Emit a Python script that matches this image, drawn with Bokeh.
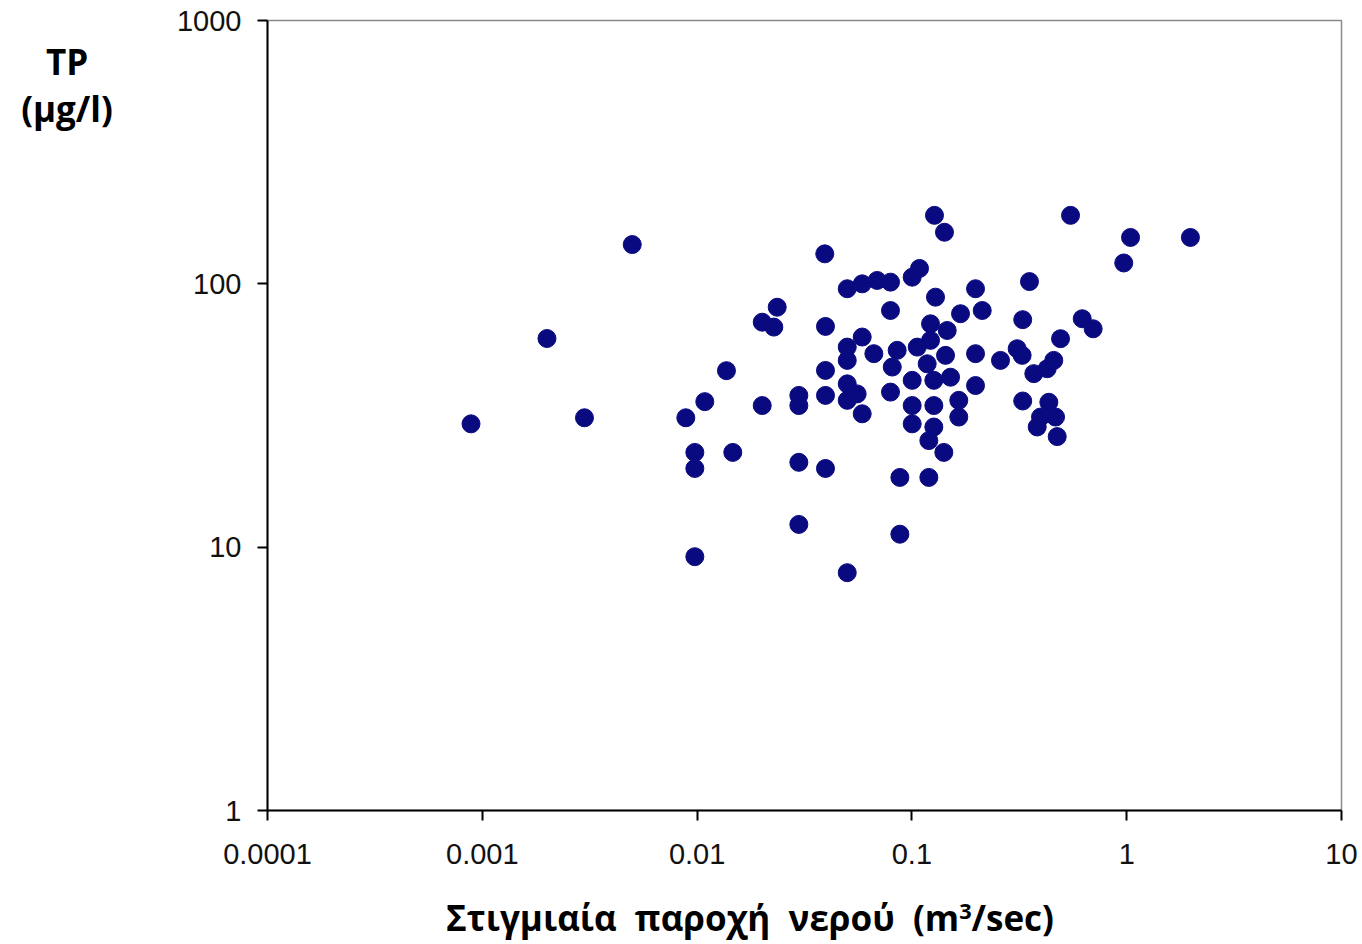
from bokeh.plotting import figure
from bokeh.models import FixedTicker, Div
from bokeh.layouts import row, column
from bokeh.embed import file_html
from bokeh.resources import INLINE

# Instantaneous water discharge (m3/sec) vs TP (ug/l)
flow = [0.000886, 0.0020, 0.00299, 0.00499, 0.00886, 0.00976, 0.00976, 0.00976,
        0.01086, 0.0137, 0.01466, 0.0201, 0.0201, 0.02276, 0.0236, 0.02976,
        0.02976, 0.02976, 0.02976, 0.0396, 0.0396, 0.0396, 0.0396, 0.0393,
        0.050, 0.050, 0.050, 0.050, 0.050, 0.0556, 0.0587, 0.0587, 0.050,
        0.0587, 0.0689, 0.0795, 0.0665, 0.0795, 0.0795, 0.081, 0.0854, 0.0879,
        0.0879, 0.1003, 0.1085, 0.1059, 0.1003, 0.1003, 0.1003, 0.1199, 0.1199,
        0.1221, 0.1221, 0.1178, 0.1265, 0.1265, 0.1265, 0.1288, 0.1274, 0.1418,
        0.1408, 0.146, 0.1434, 0.1513, 0.1653, 0.1653, 0.1684, 0.1978, 0.1978,
        0.1978, 0.2125, 0.2585, 0.309, 0.326, 0.328, 0.328, 0.3527, 0.3694,
        0.3831, 0.397, 0.4265, 0.434, 0.4576, 0.4663, 0.4748, 0.492, 0.5477,
        0.6208, 0.698, 0.969, 1.042, 1.98]
tp = [29.4, 62.0, 31.0, 141, 31.0, 22.9, 19.9, 9.2,
      35.7, 46.8, 22.9, 34.5, 71.5, 68.5, 81.5, 37.7,
      34.5, 21.0, 12.2, 68.9, 46.9, 37.7, 19.9, 130,
      95.8, 57.5, 51.2, 41.7, 36.1, 38.2, 32.1, 62.8, 8.0,
      100, 103, 101.5, 54.3, 79.2, 38.8, 48.3, 55.9, 18.4,
      11.2, 106, 114.4, 57.5, 43.0, 34.5, 29.4, 18.4, 25.4,
      70.5, 61.0, 49.7, 43.0, 34.5, 28.6, 89.0, 182, 157,
      22.9, 66.5, 53.5, 44.2, 36.1, 31.2, 77.0, 95.8, 54.3,
      41.1, 79.2, 51.2, 56.7, 53.5, 73.1, 35.9, 102, 45.6,
      28.6, 31.2, 47.6, 35.5, 51.2, 31.2, 26.3, 61.9, 182,
      73.7, 67.5, 120, 150, 150]

x_ticks = [0.0001, 0.001, 0.01, 0.1, 1, 10]
x_tick_labels = ["0.0001", "0.001", "0.01", "0.1", "1", "10"]
y_ticks = [1, 10, 100, 1000]
y_tick_labels = ["1", "10", "100", "1000"]

x_title = "Στιγμιαία&nbsp; παροχή&nbsp; νερού&nbsp; (m<sup style='font-size:0.62em;vertical-align:0.55em;line-height:0'>3</sup>/sec)"
y_title_lines = ["TP", "(μg/l)"]

p = figure(width=1228, height=874, frame_width=1074, frame_height=790,
           x_axis_type="log", y_axis_type="log",
           x_range=(x_ticks[0], x_ticks[-1]), y_range=(y_ticks[0], y_ticks[-1]),
           output_backend="svg", toolbar_location=None,
           min_border_left=133, min_border_right=21, min_border_top=20,
           min_border_bottom=64)

p.background_fill_color = "white"
p.border_fill_color = "white"
p.outline_line_color = "#8a8a8a"
p.outline_line_width = 1.5
p.xgrid.visible = False
p.ygrid.visible = False

p.xaxis.ticker = FixedTicker(ticks=x_ticks)
p.yaxis.ticker = FixedTicker(ticks=y_ticks)
p.xaxis.major_label_overrides = {t: l for t, l in zip(x_ticks, x_tick_labels)}
p.yaxis.major_label_overrides = {t: l for t, l in zip(y_ticks, y_tick_labels)}

for ax in (p.xaxis, p.yaxis):
    ax.axis_line_color = "black"
    ax.axis_line_width = 2
    ax.major_tick_line_color = "black"
    ax.major_tick_line_width = 2
    ax.major_tick_out = 10
    ax.major_tick_in = 0
    ax.minor_tick_line_color = None
    ax.major_label_text_font = "Liberation Sans"
    ax.major_label_text_font_size = "29px"
    ax.major_label_text_color = "#111111"
p.xaxis.major_label_standoff = 23
p.yaxis.major_label_standoff = 16

p.scatter(flow, tp, size=18, fill_color="#0a0a80", line_color="#0a0a80", line_width=1)

title_css = ("font-family:'Open Sans',sans-serif;font-weight:bold;font-size:35px;"
             "line-height:47px;color:black;white-space:nowrap;")

ydiv = Div(text="<div style=\"%s text-align:center;width:134px;padding-top:38px;\">%s</div>"
           % (title_css, "<br>".join(y_title_lines)),
           width=134, height=874, margin=(0, 0, 0, 0))
xdiv = Div(text="<div style=\"%s text-align:center;width:1100px;margin-left:200px;padding-top:20px;\">%s</div>"
           % (title_css, x_title),
           width=1362, height=70, margin=(0, 0, 0, 0))

layout = column(row(ydiv, p, spacing=0), xdiv, spacing=0)

open("out.html", "w").write(file_html(layout, INLINE))
